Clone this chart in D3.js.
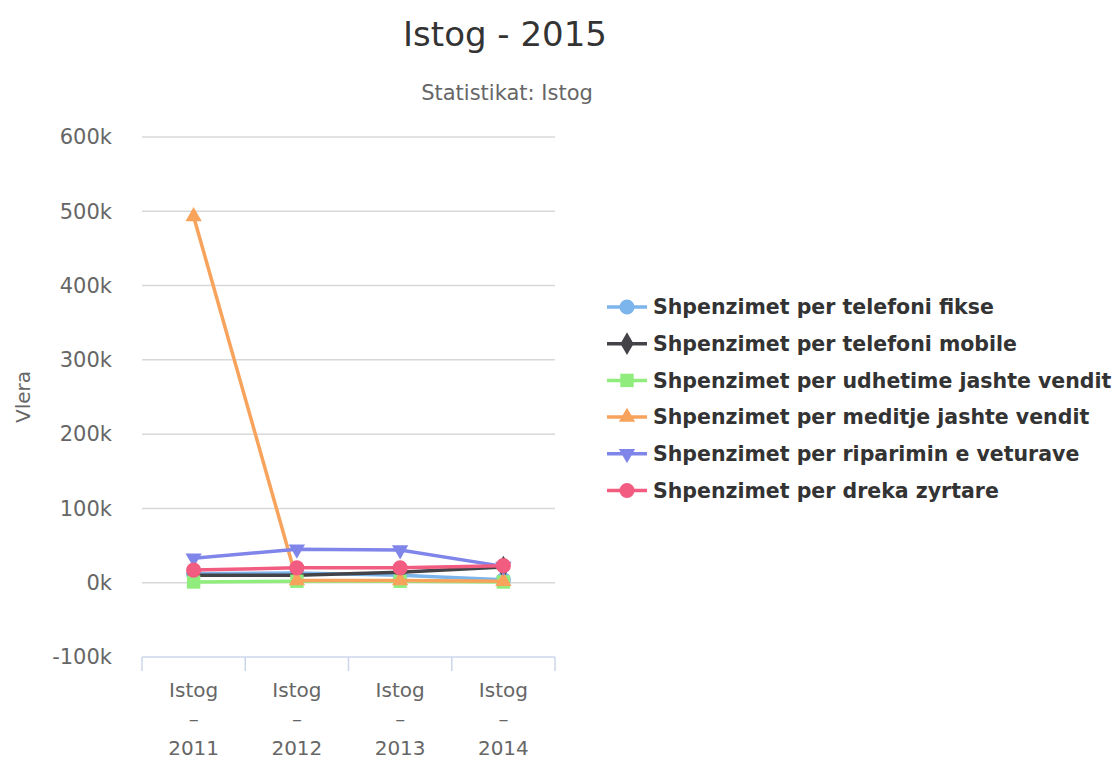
<!DOCTYPE html>
<html>
<head>
<meta charset="utf-8">
<script src="https://cdn.jsdelivr.net/npm/d3@7"></script>
<style>
  body { margin: 0; background: #fff; }
  text { font-family: "DejaVu Sans", sans-serif; }
</style>
</head>
<body>
<div id="chart"></div>
<script>
// categories and series values
var categories = ["Istog – 2011", "Istog – 2012", "Istog – 2013", "Istog – 2014"];
var seriesNames = [
  "Shpenzimet per telefoni fikse",
  "Shpenzimet per telefoni mobile",
  "Shpenzimet per udhetime jashte vendit",
  "Shpenzimet per meditje jashte vendit",
  "Shpenzimet per riparimin e veturave",
  "Shpenzimet per dreka zyrtare"
];
var fikse = [12000, 13000, 10000, 4000];
var mobile = [10000, 10000, 14000, 21000];
var udhetime = [1000, 2000, 2000, 1000];
var meditje = [493000, 3000, 3000, 2000];
var riparimin = [33000, 45000, 44000, 22000];
var dreka = [17000, 20000, 20000, 23000];
var yTicks = [-100000, 0, 100000, 200000, 300000, 400000, 500000, 600000];

var colors = ["#7cb5ec", "#434348", "#90ed7d", "#f7a35c", "#8085e9", "#f15c80"];
var symbols = [d3.symbolCircle, d3.symbolDiamond, d3.symbolSquare, d3.symbolTriangle, d3.symbolTriangle, d3.symbolCircle];
var symSize = [180, 150, 180, 115, 115, 180];
var allValues = [fikse, mobile, udhetime, meditje, riparimin, dreka];
var series = seriesNames.map(function(n, i) {
  return {name: n, values: allValues[i], color: colors[i], symbol: symbols[i], size: symSize[i], down: i === 4};
});

var W = 1120, H = 760;
var margin = {top: 137, left: 142, right: 565, bottom: 103};
var width = W - margin.left - margin.right,
    height = H - margin.top - margin.bottom;

var svg = d3.select("#chart").append("svg")
  .attr("width", W)
  .attr("height", H);

// title + subtitle
svg.append("text")
  .attr("x", 505).attr("y", 46)
  .attr("text-anchor", "middle")
  .style("font-size", "34px")
  .style("fill", "#333")
  .text("Istog - 2015");
svg.append("text")
  .attr("x", 507).attr("y", 100)
  .attr("text-anchor", "middle")
  .style("font-size", "21px")
  .style("fill", "#666")
  .text("Statistikat: Istog");

var g = svg.append("g")
  .attr("transform", "translate(" + margin.left + "," + margin.top + ")");

var x = d3.scaleBand().domain(categories).range([0, width]);
var y = d3.scaleLinear().domain([-100000, 600000]).range([height, 0]);

// gridlines
g.append("g")
  .selectAll("line")
  .data(yTicks.filter(function(d) { return d > -100000; }))
  .enter().append("line")
    .attr("x1", 0).attr("x2", width)
    .attr("y1", function(d) { return y(d); })
    .attr("y2", function(d) { return y(d); })
    .style("stroke", "#d8d8d8")
    .style("stroke-width", 1.5);

// y axis labels
var yAxis = g.append("g")
  .call(d3.axisLeft(y).tickValues(yTicks).tickSize(0).tickPadding(30)
    .tickFormat(function(d) { return (d / 1000) + "k"; }));
yAxis.select(".domain").remove();
yAxis.selectAll("text")
  .style("font-size", "21px")
  .style("fill", "#666")
  .style("font-family", "DejaVu Sans, sans-serif")
  .text(function(d) { return (d < 0 ? "-" : "") + Math.abs(d / 1000) + "k"; });

svg.append("text")
  .attr("transform", "translate(30," + (margin.top + height / 2) + ") rotate(-90)")
  .attr("text-anchor", "middle")
  .style("font-size", "20px")
  .style("fill", "#666")
  .text("Vlera");

// x axis
var xg = g.append("g").attr("transform", "translate(0," + height + ")");
xg.append("line")
  .attr("x1", 0).attr("x2", width)
  .style("stroke", "#ccd6eb").style("stroke-width", 1.5);
xg.selectAll(".tick")
  .data(categories.concat([null]))
  .enter().append("line")
    .attr("x1", function(d, i) { return i * x.bandwidth(); })
    .attr("x2", function(d, i) { return i * x.bandwidth(); })
    .attr("y1", 0).attr("y2", 14)
    .style("stroke", "#ccd6eb").style("stroke-width", 1.5);
var labels = xg.selectAll(".lbl")
  .data(categories)
  .enter().append("text")
    .attr("text-anchor", "middle")
    .style("font-size", "20px")
    .style("fill", "#666");
labels.each(function(d) {
  var parts = d.split(" ");
  var t = d3.select(this);
  parts.forEach(function(p, k) {
    t.append("tspan")
      .attr("x", x(d) + x.bandwidth() / 2)
      .attr("y", 40 + k * 29)
      .text(p);
  });
});

// lines
var line = d3.line()
  .x(function(d, i) { return x(categories[i]) + x.bandwidth() / 2; })
  .y(function(d) { return y(d); });

series.forEach(function(s) {
  g.append("path")
    .datum(s.values)
    .attr("d", line)
    .style("fill", "none")
    .style("stroke", s.color)
    .style("stroke-width", 3.5);
  g.selectAll(null)
    .data(s.values)
    .enter().append("path")
      .attr("d", d3.symbol().type(s.symbol).size(s.size))
      .attr("transform", function(d, i) {
        return "translate(" + (x(categories[i]) + x.bandwidth() / 2) + "," + y(d) + ")" + (s.down ? " rotate(180)" : "");
      })
      .style("fill", s.color);
});

// legend
var legend = svg.append("g").attr("transform", "translate(607,307)");
var item = legend.selectAll("g")
  .data(series)
  .enter().append("g")
    .attr("transform", function(d, i) { return "translate(0," + (i * 36.7) + ")"; });
item.append("line")
  .attr("x1", 0).attr("x2", 40)
  .style("stroke", function(d) { return d.color; })
  .style("stroke-width", 3.5);
item.append("path")
  .attr("d", function(d) { return d3.symbol().type(d.symbol).size(d.size)(); })
  .attr("transform", function(d) { return "translate(20,0)" + (d.down ? " rotate(180)" : ""); })
  .style("fill", function(d) { return d.color; });
item.append("text")
  .attr("x", 46)
  .attr("dy", "0.35em")
  .style("font-size", "20.5px")
  .style("font-weight", "bold")
  .style("fill", "#333")
  .text(function(d) { return d.name; });
</script>
</body>
</html>
